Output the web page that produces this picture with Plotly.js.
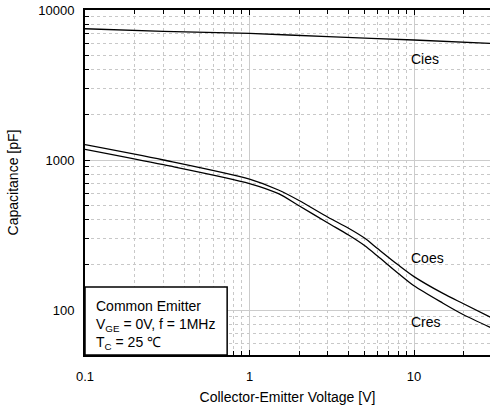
<!DOCTYPE html>
<html>
<head>
<meta charset="utf-8">
<script src="https://cdn.plot.ly/plotly-3.0.1.min.js"></script>
<style>html,body{margin:0;padding:0;background:#fff;}#chart{width:490px;height:416px;}</style>
</head>
<body>
<div id="chart"></div>
<script>
// Data
const vCies = [0.1, 0.3, 1, 3, 10, 30];
const cies = [7500, 7200, 6980, 6640, 6310, 5990];

const vOut = [0.1, 0.3, 1, 1.5, 2, 3, 4, 5, 6, 8, 10, 15, 20, 30];
const coes = [1265, 1000, 745, 631, 537, 415, 351, 302, 257, 200, 167, 129, 110, 88];
const cres = [1178, 930, 697, 596, 495, 380, 316, 269, 229, 176, 145, 111, 93, 75.5];

const xTicks = [0.1, 1, 10];
const xTickText = ['0.1', '1', '10'];
const yTicks = [100, 1000, 10000];
const yTickText = ['100', '1000', '10000'];

const seriesNames = ['Cies', 'Coes', 'Cres'];
const condLines = ['Common Emitter', 'V<sub>GE</sub> = 0V, f = 1MHz', 'T<sub>C</sub> = 25 ℃'];

const FONT = 'Liberation Sans, Arial, Helvetica, sans-serif';
const lineStyle = {color: '#000', width: 1.3, shape: 'spline', smoothing: 0.8};

const traces = [
  {x: vCies, y: cies, name: seriesNames[0], mode: 'lines', line: lineStyle, hoverinfo: 'skip'},
  {x: vOut, y: coes, name: seriesNames[1], mode: 'lines', line: lineStyle, hoverinfo: 'skip'},
  {x: vOut, y: cres, name: seriesNames[2], mode: 'lines', line: lineStyle, hoverinfo: 'skip'}
];

const minorCfg = {
  dtick: 'D1',
  ticks: 'inside', ticklen: 4, tickcolor: '#000', tickwidth: 1,
  showgrid: true, gridcolor: '#c8c8c8', griddash: 'dot', gridwidth: 1
};

const layout = {
  width: 490, height: 416,
  margin: {l: 85, r: 0, t: 10, b: 61},
  paper_bgcolor: '#fff', plot_bgcolor: '#fff',
  showlegend: false,
  font: {family: FONT, size: 13, color: '#000'},
  xaxis: {
    type: 'log', range: [-1, 1.462],
    tickvals: xTicks, ticktext: xTickText,
    ticks: 'inside', ticklen: 5, tickcolor: '#000', tickwidth: 1,
    showline: true, linecolor: '#000', linewidth: 2, mirror: 'ticks',
    showgrid: true, gridcolor: '#cccccc', gridwidth: 1,
    minor: minorCfg,
    zeroline: false,
    tickfont: {family: FONT, size: 13, color: '#000'},
    ticklabelstandoff: 8,
    title: {text: 'Collector-Emitter Voltage [V]', font: {family: FONT, size: 14, color: '#000'}, standoff: 10}
  },
  yaxis: {
    type: 'log', range: [1.7, 4],
    tickvals: yTicks, ticktext: yTickText,
    ticks: 'inside', ticklen: 5, tickcolor: '#000', tickwidth: 1,
    showline: true, linecolor: '#000', linewidth: 2, mirror: false,
    showgrid: true, gridcolor: '#cccccc', gridwidth: 1,
    minor: minorCfg,
    zeroline: false,
    tickfont: {family: FONT, size: 13, color: '#000'},
    ticklabelstandoff: 6,
    title: {text: 'Capacitance [pF]', font: {family: FONT, size: 14, color: '#000'}, standoff: 16}
  },
  shapes: [
    {type: 'rect', xref: 'paper', yref: 'paper', x0: 0, x1: 0.351, y0: 0, y1: 0.197,
     fillcolor: '#fff', line: {color: '#000', width: 1.5}, layer: 'above'}
  ],
  annotations: [
    {xref: 'paper', yref: 'paper', x: 0.8, y: 0.858, xanchor: 'left', yanchor: 'middle',
     text: seriesNames[0], showarrow: false, font: {family: FONT, size: 14, color: '#000'}},
    {xref: 'paper', yref: 'paper', x: 0.8, y: 0.281, xanchor: 'left', yanchor: 'middle',
     text: seriesNames[1], showarrow: false, font: {family: FONT, size: 14, color: '#000'}},
    {xref: 'paper', yref: 'paper', x: 0.8, y: 0.096, xanchor: 'left', yanchor: 'middle',
     text: seriesNames[2], showarrow: false, font: {family: FONT, size: 14, color: '#000'}},
    {xref: 'paper', yref: 'paper', x: 0.022, y: 0.172, xanchor: 'left', yanchor: 'top', align: 'left',
     text: condLines.join('<br>'), showarrow: false,
     font: {family: FONT, size: 14, color: '#000'}}
  ]
};

Plotly.newPlot('chart', traces, layout, {staticPlot: true, displayModeBar: false});
</script>
</body>
</html>
